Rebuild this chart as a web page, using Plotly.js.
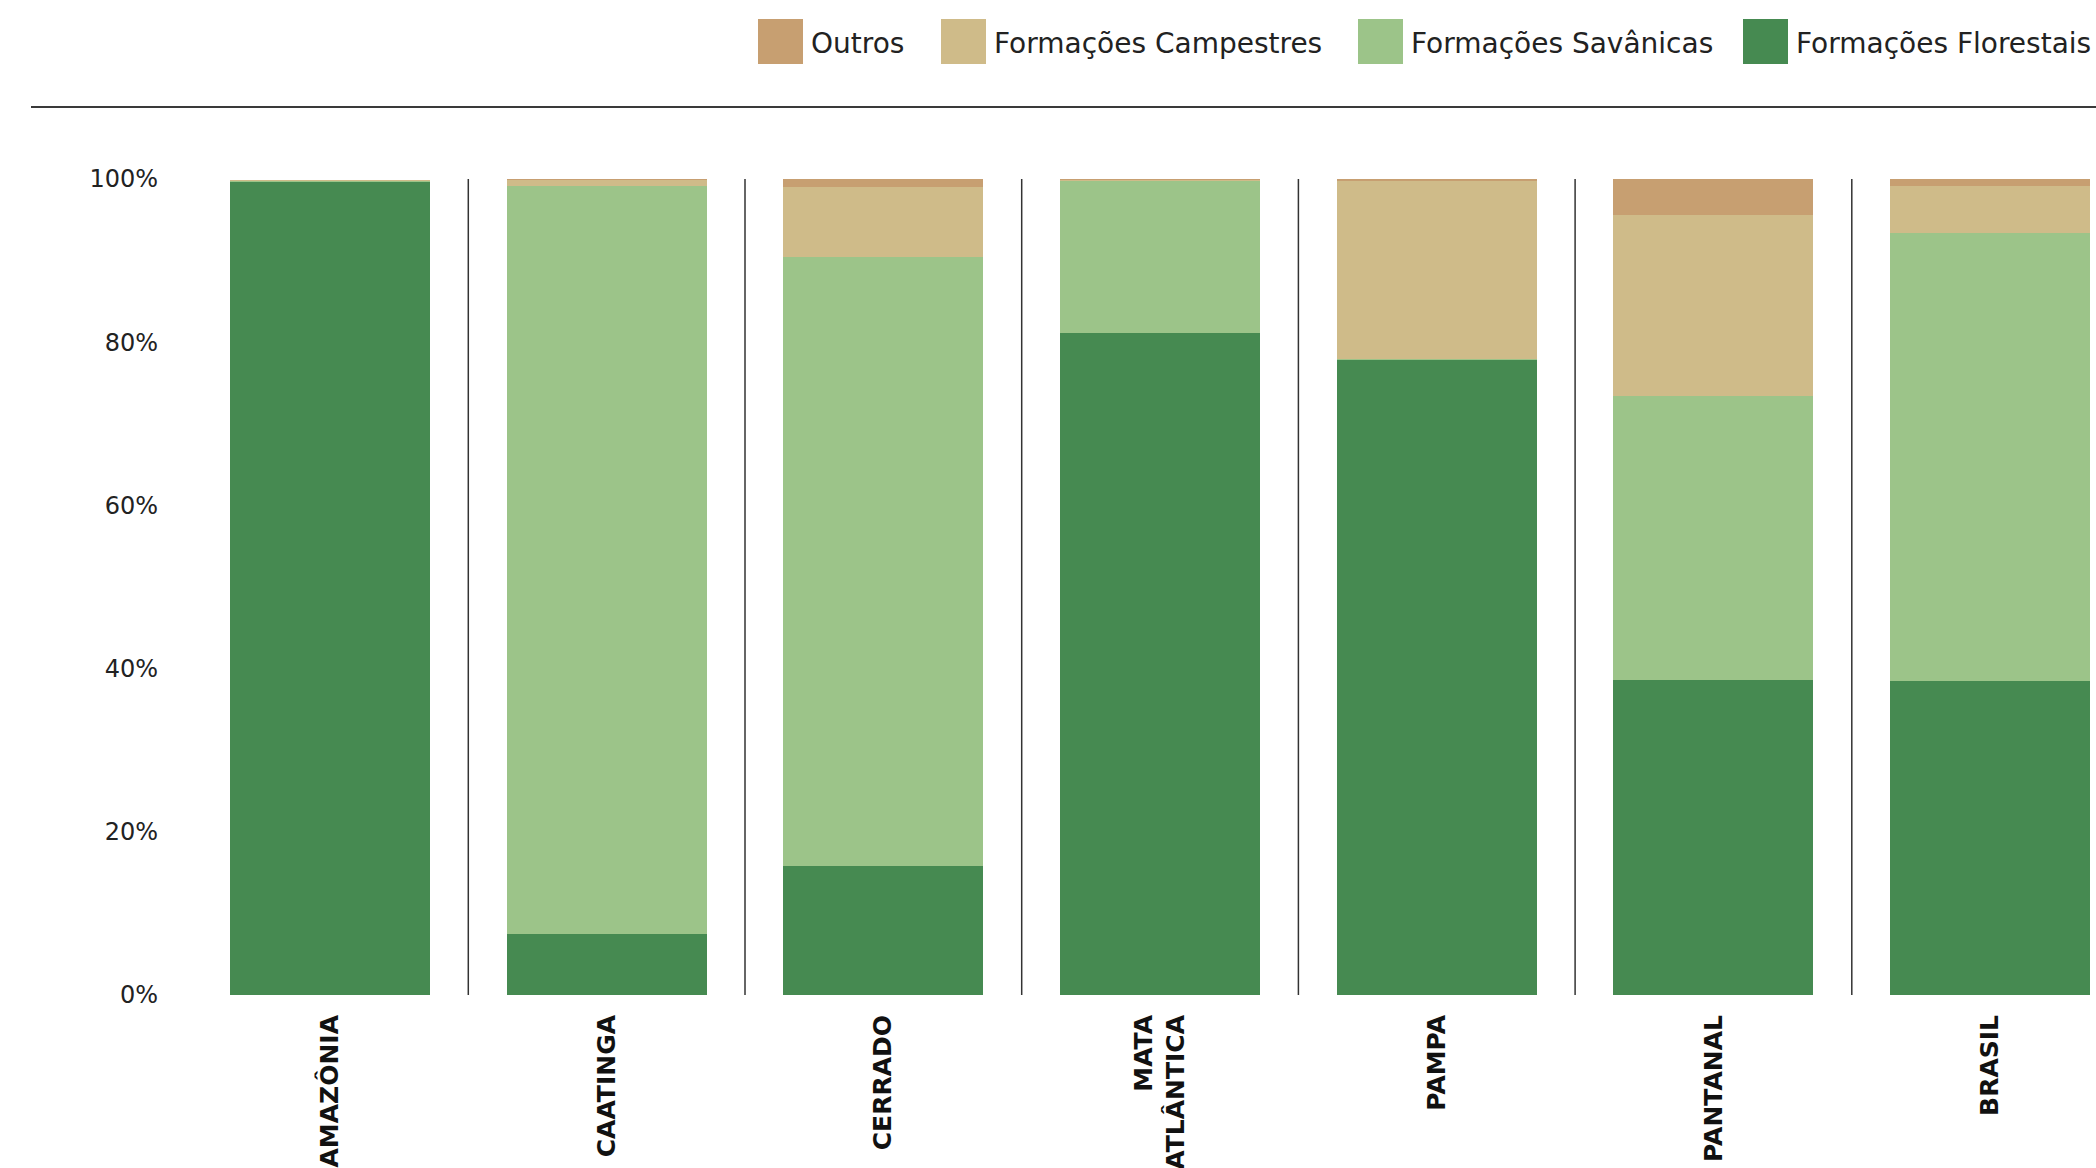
<!DOCTYPE html>
<html>
<head>
<meta charset="utf-8">
<script src="https://cdn.plot.ly/plotly-3.0.1.min.js"></script>
<style>html,body{margin:0;padding:0;background:#fff;}#chart{width:2096px;height:1168px;}</style>
</head>
<body>
<div id="chart"></div>
<script>
// ---- data ----
const categories = ['AMAZÔNIA', 'CAATINGA', 'CERRADO', 'MATA<br>ATLÂNTICA', 'PAMPA', 'PANTANAL', 'BRASIL'];
const florestais = [99.6, 7.5, 15.8, 81.1, 77.8, 38.6, 38.5];
const savanicas  = [0.2, 91.7, 74.6, 18.65, 0.1, 34.8, 54.9];
const campestres = [0.05, 0.65, 8.6, 0.15, 21.8, 22.2, 5.8];
const outros     = [0.0, 0.15, 1.0, 0.1, 0.3, 4.4, 0.8];

const seriesNames  = ['Formações Florestais', 'Formações Savânicas', 'Formações Campestres', 'Outros'];
const seriesColors = ['#468a51', '#9cc489', '#cfbb89', '#c79f71'];
const seriesValues = [florestais, savanicas, campestres, outros];

const yTickVals = [0, 20, 40, 60, 80, 100];

// ---- layout geometry ----
const W = 2096, H = 1168;
const M = {l: 175, r: 0, t: 179, b: 173};
const PW = W - M.l - M.r, PH = H - M.t - M.b;
const px = v => (v - M.l) / PW;
const py = v => (H - M.b - v) / PH;

const FONT = 'DejaVu Sans, Montserrat, sans-serif';

const traces = seriesNames.map((name, k) => ({
  type: 'bar',
  name: name,
  x: categories,
  y: seriesValues[k],
  marker: {color: seriesColors[k], line: {width: 0}},
  hovertemplate: '%{x}: %{y:.1f}%<extra>' + name + '</extra>',
  showlegend: false
}));

// separators between categories
const shapes = categories.slice(0, -1).map((c, i) => ({
  type: 'line', xref: 'x', yref: 'y',
  x0: i + 0.5, x1: i + 0.5, y0: 0, y1: 100,
  line: {color: '#333333', width: 1.5}
}));
// top rule
shapes.push({type: 'line', xref: 'paper', yref: 'paper',
  x0: px(31), x1: px(2096), y0: py(107), y1: py(107),
  line: {color: '#3a3a3a', width: 2}});

// custom legend (reversed order, large square swatches)
const legendOrder = [3, 2, 1, 0];
const swatchLeft = [758, 941, 1358, 1743];
const annotations = [];
legendOrder.forEach((k, j) => {
  const x0 = swatchLeft[j];
  shapes.push({type: 'rect', xref: 'paper', yref: 'paper',
    x0: px(x0), x1: px(x0 + 45), y0: py(64), y1: py(19),
    fillcolor: seriesColors[k], line: {width: 0}});
  annotations.push({xref: 'paper', yref: 'paper', x: px(x0 + 51), y: py(44),
    xanchor: 'left', yanchor: 'middle', showarrow: false,
    text: seriesNames[k], font: {family: FONT, size: 28, color: '#222222'}});
});

const layout = {
  width: W, height: H,
  margin: M,
  paper_bgcolor: '#ffffff', plot_bgcolor: '#ffffff',
  barmode: 'stack',
  bargap: 0.277,
  showlegend: false,
  font: {family: FONT, color: '#222222'},
  xaxis: {
    type: 'category',
    range: [-0.56, -0.56 + PW / 276.7],
    showgrid: false, zeroline: false, showline: false,
    tickangle: -90,
    ticks: '',
    ticklabelstandoff: 14,
    tickfont: {family: FONT, size: 25, color: '#111111', weight: 'bold'},
    automargin: false,
    fixedrange: true
  },
  yaxis: {
    range: [0, 100],
    tickvals: yTickVals,
    ticktext: yTickVals.map(v => v + '%'),
    showgrid: false, zeroline: false, showline: false,
    ticks: '',
    ticklabelstandoff: 16,
    tickfont: {family: FONT, size: 24, color: '#222222'},
    automargin: false,
    fixedrange: true
  },
  shapes: shapes,
  annotations: annotations
};

Plotly.newPlot('chart', traces, layout, {displayModeBar: false, staticPlot: true});
</script>
</body>
</html>
